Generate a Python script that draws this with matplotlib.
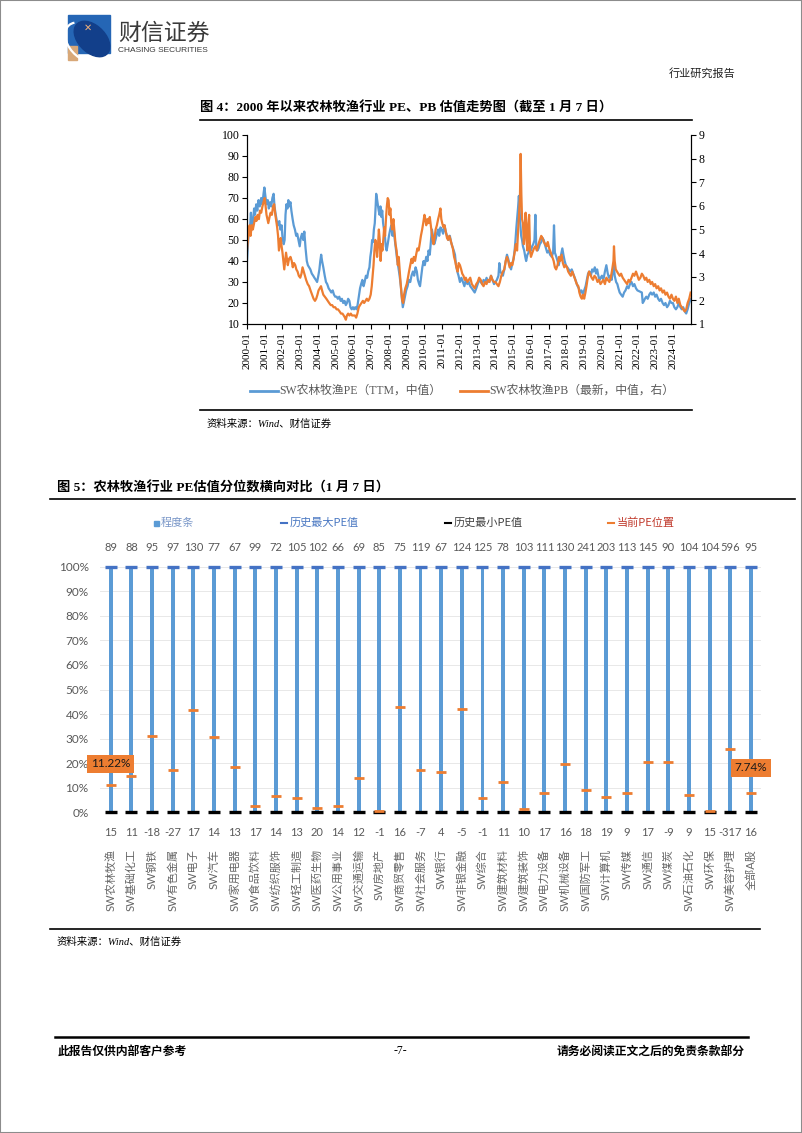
import numpy as np
import matplotlib.pyplot as plt
from matplotlib.lines import Line2D
from matplotlib.patches import Rectangle, Ellipse, Arc

# ---------------- chart 1 data ----------------
# PE (TTM, median), left axis: (year, value)
pe_points = [
    (2000.00, 40), (2000.05, 48), (2000.10, 55), (2000.15, 53), (2000.22, 63), (2000.27, 55),
    (2000.33, 58), (2000.40, 65), (2000.45, 62), (2000.52, 67), (2000.58, 64), (2000.65, 69),
    (2000.72, 66), (2000.80, 70), (2000.87, 67), (2000.93, 72), (2000.98, 75), (2001.05, 70),
    (2001.10, 67), (2001.17, 69), (2001.23, 65), (2001.30, 68), (2001.37, 66), (2001.43, 70),
    (2001.50, 72), (2001.55, 66), (2001.62, 62), (2001.68, 59), (2001.75, 57), (2001.82, 59),
    (2001.88, 55), (2001.95, 57), (2002.00, 51), (2002.07, 48), (2002.12, 50), (2002.17, 62),
    (2002.22, 67), (2002.28, 65), (2002.33, 69), (2002.38, 66), (2002.45, 68), (2002.50, 64),
    (2002.57, 60), (2002.63, 57), (2002.70, 55), (2002.77, 52), (2002.83, 53), (2002.90, 50),
    (2002.97, 47), (2003.03, 51), (2003.10, 53), (2003.17, 50), (2003.23, 54), (2003.30, 46),
    (2003.37, 40), (2003.43, 38), (2003.50, 37), (2003.57, 36), (2003.65, 34), (2003.73, 33),
    (2003.80, 32), (2003.88, 31), (2003.95, 30), (2004.02, 33), (2004.08, 36), (2004.13, 40),
    (2004.18, 43), (2004.23, 40), (2004.30, 37), (2004.38, 33), (2004.45, 30), (2004.52, 29),
    (2004.60, 27), (2004.68, 26), (2004.75, 25), (2004.83, 26), (2004.90, 24), (2004.97, 23),
    (2005.05, 23), (2005.12, 22), (2005.20, 23), (2005.28, 21), (2005.35, 22), (2005.42, 20),
    (2005.50, 21), (2005.57, 19), (2005.63, 20), (2005.70, 22), (2005.77, 21), (2005.83, 18),
    (2005.90, 17), (2005.97, 18), (2006.03, 17), (2006.10, 18), (2006.17, 17), (2006.23, 19),
    (2006.30, 23), (2006.37, 27), (2006.43, 29), (2006.50, 31), (2006.57, 28), (2006.63, 30),
    (2006.70, 33), (2006.77, 32), (2006.83, 35), (2006.90, 37), (2006.95, 42), (2007.00, 45),
    (2007.05, 50), (2007.10, 49), (2007.15, 55), (2007.20, 58), (2007.25, 66), (2007.28, 72),
    (2007.32, 70), (2007.37, 67), (2007.42, 64), (2007.47, 62), (2007.52, 66), (2007.57, 61),
    (2007.62, 64), (2007.67, 58), (2007.72, 55), (2007.77, 52), (2007.82, 47), (2007.87, 45),
    (2007.93, 48), (2008.00, 52), (2008.07, 55), (2008.13, 57), (2008.20, 52), (2008.27, 55),
    (2008.33, 50), (2008.40, 45), (2008.47, 40), (2008.53, 37), (2008.60, 33), (2008.67, 28),
    (2008.73, 22), (2008.78, 18), (2008.83, 20), (2008.90, 23), (2008.97, 26), (2009.05, 28),
    (2009.12, 31), (2009.20, 30), (2009.27, 33), (2009.35, 35), (2009.42, 33), (2009.50, 37),
    (2009.57, 35), (2009.63, 31), (2009.70, 29), (2009.75, 28), (2009.82, 33), (2009.88, 37),
    (2009.95, 40), (2010.02, 38), (2010.10, 42), (2010.17, 40), (2010.23, 45), (2010.30, 43),
    (2010.37, 50), (2010.42, 55), (2010.48, 52), (2010.55, 48), (2010.62, 50), (2010.70, 53),
    (2010.77, 55), (2010.83, 52), (2010.90, 56), (2010.97, 55), (2011.05, 53), (2011.13, 57),
    (2011.20, 54), (2011.27, 52), (2011.35, 50), (2011.43, 52), (2011.50, 49), (2011.57, 47),
    (2011.65, 45), (2011.72, 43), (2011.78, 38), (2011.85, 35), (2011.92, 33), (2012.00, 30),
    (2012.08, 32), (2012.17, 30), (2012.25, 28), (2012.33, 31), (2012.42, 29), (2012.50, 30),
    (2012.58, 28), (2012.67, 27), (2012.75, 26), (2012.83, 25), (2012.92, 27), (2013.00, 29),
    (2013.08, 31), (2013.17, 30), (2013.25, 29), (2013.33, 31), (2013.42, 30), (2013.50, 32),
    (2013.58, 30), (2013.67, 31), (2013.75, 33), (2013.83, 31), (2013.92, 29), (2014.00, 30),
    (2014.08, 31), (2014.17, 33), (2014.22, 39), (2014.27, 35), (2014.35, 34), (2014.42, 33),
    (2014.50, 36), (2014.58, 40), (2014.65, 43), (2014.72, 41), (2014.80, 38), (2014.88, 36),
    (2014.95, 39), (2015.02, 41), (2015.08, 45), (2015.13, 50), (2015.18, 56), (2015.24, 62),
    (2015.28, 66), (2015.32, 71), (2015.36, 64), (2015.40, 58), (2015.45, 52), (2015.50, 50),
    (2015.55, 47), (2015.62, 45), (2015.68, 42), (2015.73, 40), (2015.80, 43), (2015.87, 44),
    (2015.93, 46), (2016.00, 45), (2016.07, 47), (2016.13, 48), (2016.20, 50), (2016.25, 62),
    (2016.30, 47), (2016.37, 45), (2016.43, 46), (2016.50, 48), (2016.58, 49), (2016.65, 51),
    (2016.72, 50), (2016.78, 48), (2016.85, 46), (2016.92, 44), (2017.00, 45), (2017.08, 43),
    (2017.17, 42), (2017.25, 44), (2017.30, 57), (2017.35, 44), (2017.43, 42), (2017.50, 40),
    (2017.57, 38), (2017.63, 41), (2017.70, 43), (2017.77, 46), (2017.83, 43), (2017.90, 40),
    (2017.97, 38), (2018.05, 37), (2018.13, 36), (2018.22, 35), (2018.30, 36), (2018.38, 34),
    (2018.47, 32), (2018.55, 30), (2018.63, 28), (2018.70, 27), (2018.78, 25), (2018.85, 26),
    (2018.93, 24), (2019.00, 26), (2019.08, 28), (2019.15, 31), (2019.22, 34), (2019.30, 35),
    (2019.38, 33), (2019.45, 36), (2019.52, 35), (2019.60, 37), (2019.67, 34), (2019.73, 36),
    (2019.80, 33), (2019.87, 31), (2019.93, 32), (2020.00, 33), (2020.08, 31), (2020.17, 35),
    (2020.25, 38), (2020.33, 34), (2020.40, 32), (2020.47, 33), (2020.55, 31), (2020.62, 36),
    (2020.67, 38), (2020.72, 33), (2020.80, 30), (2020.87, 29), (2020.93, 27), (2021.00, 25),
    (2021.08, 24), (2021.17, 23), (2021.25, 25), (2021.33, 26), (2021.42, 28), (2021.50, 27),
    (2021.58, 29), (2021.67, 30), (2021.75, 28), (2021.83, 29), (2021.92, 27), (2022.00, 26),
    (2022.25, 25), (2022.30, 20), (2022.37, 21), (2022.42, 22), (2022.50, 23), (2022.58, 22),
    (2022.67, 24), (2022.75, 25), (2022.83, 24), (2022.92, 25), (2023.00, 23), (2023.08, 24),
    (2023.17, 22), (2023.25, 21), (2023.33, 22), (2023.42, 20), (2023.50, 19), (2023.58, 20),
    (2023.67, 18), (2023.75, 19), (2023.83, 21), (2023.92, 20), (2024.00, 20), (2024.08, 18),
    (2024.17, 17), (2024.25, 18), (2024.33, 20), (2024.42, 18), (2024.50, 17), (2024.58, 18),
    (2024.67, 16), (2024.75, 15), (2024.83, 17), (2024.92, 20), (2025.00, 22),
]

# PB (latest, median), right axis: (year, value)
pb_points = [
    (2000.00, 4.11), (2000.05, 4.56), (2000.10, 4.91), (2000.15, 5.18), (2000.20, 4.73), (2000.27, 5.18),
    (2000.33, 5.00), (2000.40, 5.27), (2000.47, 5.53), (2000.53, 5.36), (2000.60, 5.62), (2000.67, 5.44),
    (2000.73, 5.80), (2000.80, 5.71), (2000.87, 5.98), (2000.93, 6.16), (2001.00, 6.33), (2001.05, 5.98),
    (2001.10, 5.62), (2001.15, 5.44), (2001.20, 5.27), (2001.27, 5.53), (2001.33, 5.71), (2001.40, 5.62),
    (2001.47, 5.98), (2001.53, 6.07), (2001.58, 5.71), (2001.63, 5.44), (2001.70, 5.09), (2001.75, 4.73),
    (2001.80, 4.11), (2001.85, 4.38), (2001.90, 4.64), (2001.95, 4.29), (2002.00, 4.02), (2002.05, 3.67),
    (2002.10, 3.31), (2002.15, 3.67), (2002.20, 4.02), (2002.25, 3.76), (2002.30, 3.49), (2002.37, 3.76),
    (2002.45, 3.84), (2002.52, 3.67), (2002.58, 3.40), (2002.65, 3.58), (2002.72, 3.49), (2002.78, 3.31),
    (2002.85, 3.22), (2002.92, 3.04), (2003.00, 2.96), (2003.07, 3.13), (2003.13, 3.40), (2003.20, 3.22),
    (2003.27, 3.04), (2003.33, 2.87), (2003.42, 2.69), (2003.50, 2.60), (2003.58, 2.42), (2003.67, 2.24),
    (2003.75, 2.07), (2003.83, 1.98), (2003.90, 2.07), (2003.97, 2.24), (2004.03, 2.42), (2004.10, 2.51),
    (2004.17, 2.60), (2004.23, 2.42), (2004.30, 2.24), (2004.38, 2.16), (2004.47, 2.07), (2004.55, 1.98),
    (2004.63, 1.89), (2004.72, 1.80), (2004.80, 1.80), (2004.88, 1.71), (2004.97, 1.71), (2005.05, 1.62),
    (2005.13, 1.62), (2005.22, 1.53), (2005.30, 1.44), (2005.38, 1.44), (2005.45, 1.36), (2005.52, 1.27),
    (2005.57, 1.18), (2005.63, 1.36), (2005.70, 1.44), (2005.77, 1.36), (2005.85, 1.44), (2005.92, 1.36),
    (2006.00, 1.36), (2006.08, 1.36), (2006.15, 1.27), (2006.22, 1.44), (2006.30, 1.71), (2006.37, 1.80),
    (2006.45, 1.89), (2006.53, 1.98), (2006.60, 1.89), (2006.68, 1.98), (2006.75, 2.07), (2006.83, 1.98),
    (2006.90, 2.07), (2006.97, 2.24), (2007.03, 2.60), (2007.08, 3.04), (2007.13, 3.49), (2007.18, 4.11),
    (2007.23, 4.56), (2007.28, 4.38), (2007.33, 3.84), (2007.38, 4.29), (2007.43, 5.00), (2007.48, 4.56),
    (2007.53, 3.67), (2007.58, 4.38), (2007.63, 4.11), (2007.68, 4.56), (2007.73, 5.09), (2007.78, 4.73),
    (2007.83, 5.44), (2007.88, 5.98), (2007.93, 6.33), (2007.98, 6.24), (2008.03, 5.62), (2008.08, 5.89),
    (2008.13, 5.27), (2008.18, 5.00), (2008.25, 5.44), (2008.30, 5.00), (2008.37, 4.38), (2008.43, 4.11),
    (2008.50, 3.49), (2008.55, 3.84), (2008.60, 3.31), (2008.65, 2.78), (2008.70, 2.33), (2008.75, 1.98),
    (2008.80, 1.89), (2008.85, 2.24), (2008.92, 2.51), (2009.00, 2.69), (2009.07, 2.96), (2009.13, 3.22),
    (2009.20, 3.49), (2009.27, 3.76), (2009.33, 3.58), (2009.40, 3.84), (2009.47, 3.67), (2009.53, 3.93),
    (2009.60, 4.20), (2009.67, 4.11), (2009.73, 4.38), (2009.80, 4.73), (2009.87, 5.00), (2009.93, 5.27),
    (2010.00, 5.62), (2010.05, 5.44), (2010.10, 5.18), (2010.17, 5.44), (2010.23, 5.27), (2010.30, 5.53),
    (2010.37, 5.09), (2010.43, 4.73), (2010.50, 4.38), (2010.57, 4.64), (2010.63, 5.00), (2010.70, 5.18),
    (2010.77, 5.44), (2010.83, 5.62), (2010.90, 5.89), (2010.95, 5.44), (2011.00, 5.27), (2011.07, 5.09),
    (2011.13, 5.18), (2011.20, 4.91), (2011.27, 4.64), (2011.33, 4.56), (2011.40, 4.73), (2011.47, 4.56),
    (2011.53, 4.38), (2011.60, 4.20), (2011.67, 3.84), (2011.73, 3.67), (2011.80, 3.40), (2011.87, 3.22),
    (2011.93, 3.58), (2012.00, 3.49), (2012.07, 3.31), (2012.13, 3.13), (2012.20, 3.04), (2012.27, 2.87),
    (2012.33, 2.96), (2012.42, 2.78), (2012.50, 2.87), (2012.58, 2.96), (2012.67, 2.69), (2012.75, 2.60),
    (2012.83, 2.51), (2012.92, 2.69), (2013.00, 2.78), (2013.08, 2.96), (2013.17, 2.87), (2013.25, 2.69),
    (2013.33, 2.60), (2013.42, 2.78), (2013.50, 2.69), (2013.58, 2.87), (2013.67, 2.78), (2013.75, 3.04),
    (2013.83, 2.87), (2013.92, 2.78), (2014.00, 2.78), (2014.08, 2.69), (2014.17, 2.60), (2014.25, 2.78),
    (2014.33, 3.04), (2014.42, 3.22), (2014.50, 3.31), (2014.58, 3.67), (2014.65, 3.84), (2014.72, 3.67),
    (2014.80, 3.40), (2014.88, 3.58), (2014.95, 3.49), (2015.00, 3.67), (2015.08, 4.02), (2015.15, 4.38),
    (2015.22, 4.11), (2015.28, 5.00), (2015.33, 5.62), (2015.38, 6.33), (2015.42, 8.20), (2015.46, 6.51),
    (2015.50, 5.44), (2015.55, 5.27), (2015.60, 4.38), (2015.65, 5.00), (2015.70, 5.71), (2015.75, 4.56),
    (2015.80, 4.11), (2015.85, 5.27), (2015.90, 5.62), (2015.95, 4.11), (2016.00, 3.84), (2016.08, 4.02),
    (2016.17, 4.20), (2016.25, 4.29), (2016.33, 4.11), (2016.42, 4.38), (2016.50, 4.56), (2016.58, 4.73),
    (2016.65, 4.64), (2016.73, 4.47), (2016.80, 4.38), (2016.88, 4.29), (2016.95, 4.47), (2017.03, 4.20),
    (2017.12, 4.02), (2017.20, 3.84), (2017.28, 3.67), (2017.35, 3.40), (2017.42, 3.31), (2017.50, 3.49),
    (2017.58, 3.84), (2017.65, 3.67), (2017.73, 3.93), (2017.80, 3.58), (2017.88, 3.40), (2017.95, 3.49),
    (2018.03, 3.40), (2018.10, 3.22), (2018.17, 3.13), (2018.25, 3.04), (2018.33, 3.22), (2018.42, 3.04),
    (2018.50, 2.87), (2018.58, 2.69), (2018.67, 2.60), (2018.73, 2.33), (2018.80, 2.16), (2018.87, 2.07),
    (2018.93, 2.24), (2019.00, 2.07), (2019.07, 2.33), (2019.13, 2.60), (2019.20, 2.96), (2019.27, 3.22),
    (2019.33, 3.13), (2019.42, 2.96), (2019.50, 2.87), (2019.58, 3.04), (2019.67, 2.96), (2019.75, 2.78),
    (2019.83, 2.87), (2019.92, 2.69), (2020.00, 2.78), (2020.08, 2.87), (2020.17, 2.69), (2020.25, 2.96),
    (2020.33, 2.87), (2020.42, 2.78), (2020.50, 2.96), (2020.58, 3.31), (2020.65, 3.67), (2020.68, 4.29),
    (2020.72, 3.67), (2020.78, 3.31), (2020.85, 3.22), (2020.92, 3.13), (2021.00, 3.04), (2021.08, 3.13),
    (2021.17, 2.96), (2021.25, 2.87), (2021.33, 2.78), (2021.42, 2.69), (2021.50, 2.87), (2021.58, 2.78),
    (2021.67, 2.96), (2021.75, 3.13), (2021.83, 3.04), (2021.92, 3.22), (2022.00, 3.04), (2022.08, 2.87),
    (2022.17, 2.96), (2022.25, 3.13), (2022.33, 3.04), (2022.42, 2.87), (2022.50, 2.96), (2022.58, 2.78),
    (2022.67, 2.87), (2022.75, 2.69), (2022.83, 2.78), (2022.92, 2.60), (2023.00, 2.69), (2023.08, 2.51),
    (2023.17, 2.60), (2023.25, 2.42), (2023.33, 2.51), (2023.42, 2.33), (2023.50, 2.42), (2023.58, 2.24),
    (2023.67, 2.33), (2023.75, 2.16), (2023.83, 2.07), (2023.92, 2.24), (2024.00, 2.07), (2024.08, 1.98),
    (2024.17, 2.16), (2024.25, 1.89), (2024.33, 2.07), (2024.42, 1.80), (2024.50, 1.71), (2024.58, 1.62),
    (2024.67, 1.53), (2024.75, 1.62), (2024.83, 1.89), (2024.92, 2.07), (2025.00, 2.33),
]

years = list(range(2000, 2025))

# ---------------- chart 2 data ----------------
industries = [
    "SW农林牧渔", "SW基础化工", "SW钢铁", "SW有色金属", "SW电子", "SW汽车", "SW家用电器",
    "SW食品饮料", "SW纺织服饰", "SW轻工制造", "SW医药生物", "SW公用事业", "SW交通运输",
    "SW房地产", "SW商贸零售", "SW社会服务", "SW银行", "SW非银金融", "SW综合", "SW建筑材料",
    "SW建筑装饰", "SW电力设备", "SW机械设备", "SW国防军工", "SW计算机", "SW传媒", "SW通信",
    "SW煤炭", "SW石油石化", "SW环保", "SW美容护理", "全部A股",
]
pe_max = [89, 88, 95, 97, 130, 77, 67, 99, 72, 105, 102, 66, 69, 85, 75, 119,
          67, 124, 125, 78, 103, 111, 130, 241, 203, 113, 145, 90, 104, 104, 596, 95]
pe_min = [15, 11, -18, -27, 17, 14, 13, 17, 14, 13, 20, 14, 12, -1, 16, -7,
          4, -5, -1, 11, 10, 17, 16, 18, 19, 9, 17, -9, 9, 15, -317, 16]
pe_pct = [0.1122, 0.149, 0.311, 0.171, 0.417, 0.307, 0.185, 0.026, 0.066, 0.058, 0.019, 0.024,
          0.138, 0.007, 0.430, 0.174, 0.163, 0.419, 0.060, 0.125, 0.012, 0.079, 0.198, 0.092,
          0.061, 0.079, 0.206, 0.204, 0.069, 0.004, 0.256, 0.0774]
range_top = 1.0
range_bottom = 0.0

# ---------------- style ----------------
W, H = 802, 1133
BLUE = "#5B9BD5"
ORANGE = "#ED7D31"
DARKBLUE = "#4472C4"
GREY = "#595959"
SERIF = ["Liberation Serif", "Noto Sans CJK SC"]
SANS = ["Lato", "Noto Sans CJK SC"]
CJK = ["Noto Sans CJK SC", "DejaVu Sans"]

plt.rcParams["font.family"] = SERIF


def fx(x):
    return x / W


def fy(y):
    return 1 - y / H


def hline(x0, x1, y, lw=1.0, color="black"):
    fig.add_artist(Line2D([fx(x0), fx(x1)], [fy(y), fy(y)], lw=lw, color=color))


fig = plt.figure(figsize=(W / 100, H / 100), dpi=100)

# page frame
fig.add_artist(Rectangle((0, 0), 1, 1, transform=fig.transFigure, fill=False,
                         edgecolor="#8c8c8c", lw=1.5))

# ---------------- header ----------------
fig.add_artist(Rectangle((fx(68), fy(53)), 42 / W, 38 / H, color="#2566B5"))
fig.add_artist(Rectangle((fx(68), fy(60)), 9 / W, 14 / H, color="#D8A878"))
fig.add_artist(Ellipse((fx(92), fy(39)), 38 / W, 30 / H, angle=-25, color="#123F8A"))
fig.add_artist(Arc((fx(84), fy(42)), 40 / W, 34 / H, angle=-25, theta1=150, theta2=330,
                   color="white", lw=1.6))
fig.text(fx(88), fy(28), "✕", color="#F2B27A", fontsize=7, ha="center", va="center",
         family=["DejaVu Sans"])
fig.text(fx(118), fy(33), "财信证券", fontsize=16.5, color="#3a3a3a", family=CJK,
         ha="left", va="center")
fig.text(fx(118), fy(51), "CHASING SECURITIES", fontsize=6, color="#3a3a3a",
         family=["Liberation Sans"], ha="left", va="center")
fig.text(fx(735), fy(73), "行业研究报告", fontsize=8, color="#222222", family=CJK,
         ha="right", va="center")

# ---------------- chart 1 ----------------
fig.text(fx(200), fy(108), "图 4：2000 年以来农林牧渔行业 PE、PB 估值走势图（截至 1 月 7 日）",
         fontsize=9.5, fontweight="bold", family=SERIF, ha="left", va="center")
hline(200, 692, 120, lw=1.2)

pe_t = [p[0] for p in pe_points]
pe_v = [p[1] for p in pe_points]
pb_t = [p[0] for p in pb_points]
pb_v = [p[1] for p in pb_points]

ax1 = fig.add_axes([fx(247), fy(324), (691 - 247) / W, (324 - 135) / H])
ax1.plot(pe_t, pe_v, color=BLUE, lw=1.6)
ax1.set_xlim(2000, 2025.02)
ax1.set_ylim(10, 100)
ax1.set_yticks(range(10, 101, 10))
ax1.set_xticks(years)
ax1.set_xticklabels([f"{y}-01" for y in years], rotation=90)
ax1.spines["top"].set_visible(False)
ax1.tick_params(axis="both", direction="out", length=3.5, width=0.8, labelsize=8.5, pad=2)
ax1.tick_params(axis="x", labelsize=8)

ax2 = ax1.twinx()
ax2.plot(pb_t, pb_v, color=ORANGE, lw=1.6)
ax2.set_ylim(1, 9)
ax2.set_yticks(range(1, 10))
ax2.spines["top"].set_visible(False)
ax2.tick_params(axis="y", direction="out", length=3.5, width=0.8, labelsize=8.5, pad=2)
for ax in (ax1, ax2):
    for lbl in ax.get_xticklabels() + ax.get_yticklabels():
        lbl.set_family(SERIF)

# legend of chart 1
fig.add_artist(Line2D([fx(250), fx(278)], [fy(391), fy(391)], color=BLUE, lw=2))
fig.text(fx(279), fy(391), "SW农林牧渔PE（TTM，中值）", fontsize=8.5, color=GREY,
         family=SERIF, ha="left", va="center")
fig.add_artist(Line2D([fx(460), fx(488)], [fy(391), fy(391)], color=ORANGE, lw=2))
fig.text(fx(489), fy(391), "SW农林牧渔PB（最新，中值，右）", fontsize=8.5, color=GREY,
         family=SERIF, ha="left", va="center")
hline(200, 692, 410, lw=1.2)
fig.text(fx(207), fy(424), "资料来源：Wind、财信证券", fontsize=7.5, style="italic",
         family=SERIF, ha="left", va="center")

# ---------------- chart 2 ----------------
fig.text(fx(57), fy(488), "图 5：农林牧渔行业 PE估值分位数横向对比（1 月 7 日）",
         fontsize=9.5, fontweight="bold", family=SERIF, ha="left", va="center")
hline(50, 795, 499, lw=1.2)

# legend row
ly = 523
fig.add_artist(Rectangle((fx(154), fy(ly + 3)), 5 / W, 5 / H, color=BLUE))
fig.text(fx(161), fy(ly), "程度条", fontsize=8, color="#7A97C8", family=CJK, ha="left", va="center")
fig.add_artist(Line2D([fx(281), fx(287)], [fy(ly), fy(ly)], color=DARKBLUE, lw=1.5))
fig.text(fx(290), fy(ly), "历史最大PE值", fontsize=8, color="#4A78C2", family=CJK, ha="left", va="center")
fig.add_artist(Line2D([fx(445), fx(451)], [fy(ly), fy(ly)], color="black", lw=1.5))
fig.text(fx(454), fy(ly), "历史最小PE值", fontsize=8, color="#404040", family=CJK, ha="left", va="center")
fig.add_artist(Line2D([fx(608), fx(614)], [fy(ly), fy(ly)], color=ORANGE, lw=1.5))
fig.text(fx(617), fy(ly), "当前PE位置", fontsize=8, color="#C0392B", family=CJK, ha="left", va="center")

n = len(industries)
xs = np.arange(n)
ax3 = fig.add_axes([fx(100.4), fy(812.3), (761.3 - 100.4) / W, (812.3 - 566.7) / H])
ax3.set_xlim(-0.5, n - 0.5)
ax3.set_ylim(0, 1)
ax3.bar(xs, [range_top - range_bottom] * n, bottom=range_bottom, width=0.19,
        color=BLUE, zorder=2)
ax3.hlines([range_top] * n, xs - 0.29, xs + 0.29, color=DARKBLUE, lw=2.4, zorder=3, clip_on=False)
ax3.hlines([range_bottom] * n, xs - 0.29, xs + 0.29, color="black", lw=2.4, zorder=3, clip_on=False)
ax3.hlines(pe_pct, xs - 0.24, xs + 0.24, color=ORANGE, lw=2.0, zorder=4, clip_on=False)

ax3.set_yticks(np.arange(0, 1.01, 0.1))
ax3.set_yticklabels([f"{int(round(v * 100))}%" for v in np.arange(0, 1.01, 0.1)])
ax3.set_xticks([])
ax3.yaxis.grid(True, color="#E8E8E8", lw=0.7)
ax3.set_axisbelow(True)
for s in ax3.spines.values():
    s.set_visible(False)
ax3.tick_params(axis="y", length=0, pad=8.5, labelsize=8.5, labelcolor=GREY)
for lbl in ax3.get_yticklabels():
    lbl.set_family(SANS)

for i in range(n):
    ax3.text(xs[i], 1.08, str(pe_max[i]), ha="center", va="center", fontsize=8,
             color=GREY, family=SANS, clip_on=False)
    ax3.text(xs[i], -0.083, str(pe_min[i]), ha="center", va="center", fontsize=8,
             color=GREY, family=SANS, clip_on=False)
    ax3.text(xs[i], -0.150, industries[i], ha="center", va="top", rotation=90,
             fontsize=8, color="#666666", family=SANS, clip_on=False)

for i in (0, n - 1):
    ax3.text(xs[i], pe_pct[i] + (0.085 if i == 0 else 0.103), f"{pe_pct[i] * 100:.2f}%",
             ha="center", va="center", fontsize=8.5, color="#1a1a1a", family=SANS,
             bbox=dict(boxstyle="square,pad=0.3", fc=ORANGE, ec="none"), zorder=6,
             clip_on=False)

hline(50, 760, 929, lw=1.2)
fig.text(fx(57), fy(942), "资料来源：Wind、财信证券", fontsize=7.5, style="italic",
         family=SERIF, ha="left", va="center")

# ---------------- footer ----------------
hline(55, 748, 1037, lw=1.8)
fig.text(fx(58), fy(1051), "此报告仅供内部客户参考", fontsize=8.5, fontweight="bold",
         family=CJK, ha="left", va="center")
fig.text(fx(400), fy(1051), "-7-", fontsize=8.5, family=SERIF, ha="center", va="center")
fig.text(fx(745), fy(1051), "请务必阅读正文之后的免责条款部分", fontsize=8.5, fontweight="bold",
         family=CJK, ha="right", va="center")

fig.savefig("out.png", dpi=100)
